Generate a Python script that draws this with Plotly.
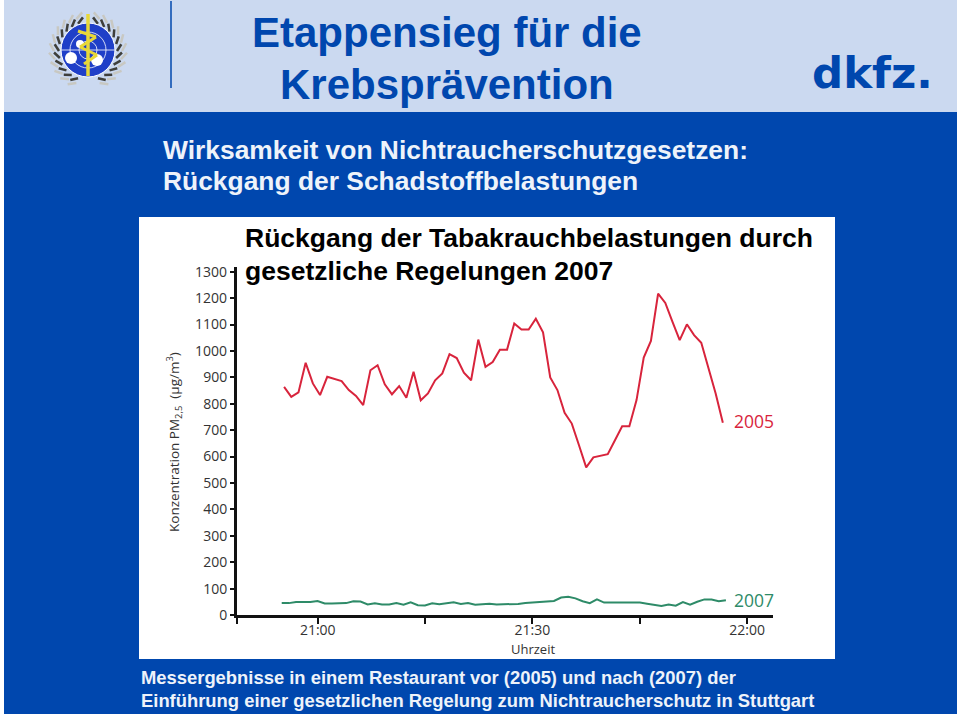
import math
import plotly.graph_objects as go

W, H = 960, 716

values_2005 = [864, 826, 843, 955, 877, 833, 902, 894, 886, 852, 830, 795, 927, 946, 874, 836, 867, 823, 921, 813,
               839, 889, 915, 988, 973, 918, 889, 1043, 940, 958, 1005, 1005, 1104, 1081, 1081, 1122, 1071, 900, 852,
               766, 725, 643, 559, 597, 603, 609, 662, 715, 715, 814, 975, 1038, 1217, 1182, 1110, 1041, 1101, 1060,
               1031, 940, 839, 728]
values_2007 = [45, 45, 49, 49, 49, 53, 44, 44, 45, 45, 52, 51, 40, 44, 40, 40, 45, 39, 48, 37, 36, 44, 41, 45, 48, 42,
               45, 39, 40, 43, 40, 40, 42, 42, 45, 47, 49, 53, 53, 66, 69, 63, 52, 45, 59, 47, 47, 47, 45, 45, 47, 43,
               39, 34, 40, 35, 49, 39, 50, 59, 59, 52, 56]
start_2005 = -4.7   # minutes after 21:00
start_2007 = -5.03
step_2005 = 1.005   # sampling interval, minutes
step_2007 = 1.001
minutes_2005 = [start_2005 + i * step_2005 for i in range(len(values_2005))]
minutes_2007 = [start_2007 + i * step_2007 for i in range(len(values_2007))]

y_ticks = list(range(0, 1400, 100))
x_ticks = [0, 30, 60]
x_tick_labels = ["21:00", "21:30", "22:00"]
x_minor_ticks = [-11.32, 15, 45]

title_lines = ["Etappensieg für die", "Krebsprävention"]
subtitle_lines = ["Wirksamkeit von Nichtraucherschutzgesetzen:", "Rückgang der Schadstoffbelastungen"]
chart_title_lines = ["Rückgang der Tabakrauchbelastungen durch", "gesetzliche Regelungen 2007"]
footer_lines = ["Messergebnisse in einem Restaurant vor (2005) und nach (2007) der",
                "Einführung einer gesetzlichen Regelung zum Nichtraucherschutz in Stuttgart"]

BLUE = "#0047AE"
BAND = "#CBD9F0"
RED = "#D8243C"
GREEN = "#2E8B68"
LIGHT = "#EEF3FA"
FONT = "Liberation Sans"


def px(x):
    return x / W


def py(y):
    return 1 - y / H


def rect(x0, y0, x1, y1, color):
    return dict(type="rect", xref="paper", yref="paper", x0=px(x0), x1=px(x1), y0=py(y0), y1=py(y1),
                fillcolor=color, line_width=0, layer="below")


def circle(cx, cy, r, color, line=None, lw=0):
    return dict(type="circle", xref="paper", yref="paper", x0=px(cx - r), x1=px(cx + r), y0=py(cy - r), y1=py(cy + r),
                fillcolor=color, line=dict(color=line or color, width=lw), layer="below")


def seg(x0, y0, x1, y1, color, w):
    return dict(type="line", xref="paper", yref="paper", x0=px(x0), x1=px(x1), y0=py(y0), y1=py(y1),
                line=dict(color=color, width=w), layer="below")


def text(x, y, s, size, color, bold=False, anchor="left", angle=0, family=FONT):
    return dict(xref="paper", yref="paper", x=px(x), y=py(y), text=f"<b>{s}</b>" if bold else s, showarrow=False,
                xanchor=anchor, yanchor="middle", textangle=angle, font=dict(family=family, size=size, color=color))


shapes = [
    rect(4, 0, 957, 112, BAND),
    rect(4, 112, 957, 714, BLUE),
    rect(139, 217, 835, 659, "#FFFFFF"),
    seg(171, 1, 171, 88, BLUE, 1.5),
]

# WHO emblem: laurel wreath, globe and staff
CX, CY = 88, 51
for side in (-1, 1):
    for k in range(11):
        a = math.radians(20 + k * 14)
        for r, col in ((29, "#3F3F3A"), (34, "#C8C8C2")):
            x0, y0 = CX + side * r * math.sin(math.pi - a), CY + r * math.cos(math.pi - a)
            x1, y1 = CX + side * (r + 5) * math.sin(math.pi - a + 0.2), CY + (r + 5) * math.cos(math.pi - a + 0.2)
            shapes.append(seg(x0, y0, x1, y1, col, 2.5))
shapes += [
    circle(88, 50, 27, "#1F3FC8", "#FFFFFF", 1),
    circle(88, 50, 18, "rgba(0,0,0,0)", "#FFFFFF", 0.8),
    circle(88, 50, 9, "rgba(0,0,0,0)", "#FFFFFF", 0.8),
    seg(61, 50, 115, 50, "#FFFFFF", 0.8),
    circle(71, 58, 6, "#FFFFFF"),
    circle(80, 44, 4, "#FFFFFF"),
    circle(97, 60, 6, "#FFFFFF"),
    seg(88, 14, 88, 76, "#E8D838", 3.5),
    seg(78, 31, 96, 37, "#E8D838", 3),
    seg(96, 37, 80, 47, "#E8D838", 3),
    seg(80, 47, 97, 55, "#E8D838", 3),
    seg(97, 55, 84, 64, "#E8D838", 3),
]

annotations = [
    text(447, 33, title_lines[0], 42, BLUE, True, "center"),
    text(447, 84, title_lines[1], 42, BLUE, True, "center"),
    text(161, 150, subtitle_lines[0], 26.4, LIGHT, True),
    text(161, 181, subtitle_lines[1], 26.4, LIGHT, True),
    text(243, 238, chart_title_lines[0], 26.5, "#000000", True),
    text(243, 271, chart_title_lines[1], 26.5, "#000000", True),
    text(139, 677, footer_lines[0], 18.4, LIGHT, True),
    text(139, 700, footer_lines[1], 18.4, LIGHT, True),
    text(872, 73, "dkfz.", 43.5, BLUE, True, "center", family="DejaVu Sans"),
    text(754, 421, "2005", 17.5, RED, False, "center", family="Open Sans"),
    text(754, 600, "2007", 17.5, GREEN, False, "center", family="Open Sans"),
    text(533, 649, "Uhrzeit", 13, "#333333", False, "center", family="Open Sans"),
    text(174, 442, "Konzentration PM<sub>2,5</sub>  (µg/m<sup>3</sup>)", 13.5, "#333333", False, "center", -90,
         family="Open Sans"),
]

axis_font = dict(family="Open Sans", size=14, color="#333333")

fig = go.Figure()
fig.add_trace(go.Scatter(x=minutes_2005, y=values_2005, mode="lines", line=dict(color=RED, width=2), name="2005"))
fig.add_trace(go.Scatter(x=minutes_2007, y=values_2007, mode="lines", line=dict(color=GREEN, width=2), name="2007"))

fig.update_layout(
    width=W, height=H, autosize=False, margin=dict(l=0, r=0, t=0, b=0, autoexpand=False), showlegend=False,
    paper_bgcolor="#FFFFFF", plot_bgcolor="rgba(0,0,0,0)", shapes=shapes, annotations=annotations,
    xaxis=dict(domain=[px(236.7), px(772.7)], range=[-11.32, 63.57], tickmode="array", tickvals=x_ticks,
               ticktext=x_tick_labels, ticks="outside", ticklen=6, tickwidth=2, tickcolor="#111111", showgrid=False,
               zeroline=False, showline=True, linecolor="#111111", linewidth=2.5, tickfont=axis_font, automargin=False,
               ticklabelstandoff=-6,
               minor=dict(tickmode="array", tickvals=x_minor_ticks, ticks="outside", ticklen=6, tickwidth=2,
                          tickcolor="#111111", showgrid=False)),
    yaxis=dict(domain=[py(615), py(267)], range=[0, 1318], tickmode="array", tickvals=y_ticks, ticks="outside",
               ticklen=4, tickwidth=2, tickcolor="#111111", showgrid=False, zeroline=False, showline=True,
               linecolor="#111111", linewidth=2.5, tickfont=axis_font, automargin=False),
)

fig.write_html("out.html", config={"displayModeBar": False},
               post_script="document.body.style.margin='0';document.body.style.overflow='hidden';")
